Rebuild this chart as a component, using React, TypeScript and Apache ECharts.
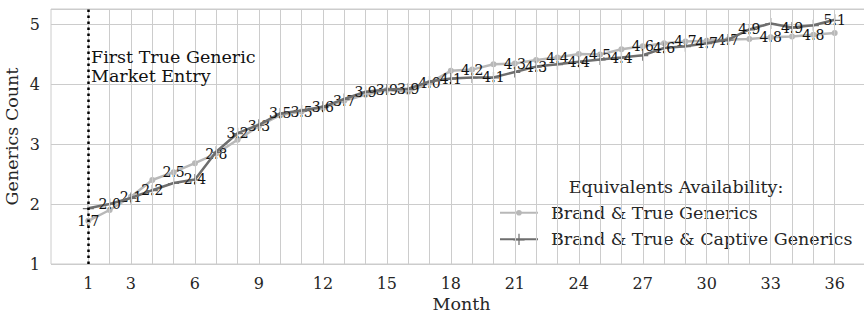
import React, { useEffect, useRef } from "react";
import * as echarts from "echarts";

const months: number[] = Array.from({ length: 36 }, (_, i) => i + 1);
const xTickLabels: number[] = [1, 3, 6, 9, 12, 15, 18, 21, 24, 27, 30, 33, 36];
const seriesNames: string[] = ["Brand & True Generics", "Brand & True & Captive Generics"];

const brandTrue: number[] = [
  1.72, 1.9, 2.12, 2.4, 2.53, 2.68, 2.84, 3.07, 3.3, 3.48, 3.54, 3.6,
  3.72, 3.82, 3.9, 3.87, 4.02, 4.22, 4.24, 4.33, 4.34, 4.4, 4.44, 4.5,
  4.49, 4.58, 4.63, 4.68, 4.71, 4.72, 4.74, 4.75, 4.78, 4.79, 4.82, 4.85,
];
const brandTrueCaptive: number[] = [
  1.93, 2.0, 2.1, 2.23, 2.35, 2.41, 2.87, 3.18, 3.32, 3.51, 3.56, 3.62,
  3.75, 3.87, 3.91, 3.92, 4.04, 4.09, 4.11, 4.11, 4.2, 4.29, 4.33, 4.37,
  4.41, 4.44, 4.48, 4.6, 4.63, 4.68, 4.74, 4.91, 5.01, 4.94, 4.98, 5.07,
];
const entryMonth = 1;

const FONT = "DejaVu Serif";
// small circle inside a 12x12 box (corner moveTo points keep the box size)
const CIRCLE_SYMBOL = "path://M0,0M12,12M9,6A3,3 0 1 1 3,6A3,3 0 1 1 9,6Z";
// matplotlib-like "+" marker
const PLUS_SYMBOL = "path://M0,5.4H11V6.6H0Z M4.9,0H6.1V11H4.9Z";

export default function App() {
  const ref = useRef<HTMLDivElement>(null);
  useEffect(() => {
    if (!ref.current) return;
    const chart = echarts.init(ref.current, undefined, { renderer: "svg" });
    const labelStyle = {
      show: true,
      position: "inside",
      fontFamily: FONT,
      fontSize: 14,
      color: "#111111",
    };
    chart.setOption({
      animation: false,
      backgroundColor: "#ffffff",
      textStyle: { fontFamily: FONT },
      grid: {
        left: 51,
        top: 9,
        right: -8,
        bottom: 49,
        containLabel: false,
        outerBoundsMode: "none",
        show: true,
        borderColor: "#cccccc",
        borderWidth: 1,
        backgroundColor: "#ffffff",
      },
      xAxis: {
        type: "value",
        min: -0.75,
        max: 37.75,
        name: "Month",
        nameLocation: "middle",
        nameGap: 30.5,
        nameMoveOverlap: false,
        nameTextStyle: { fontFamily: FONT, fontSize: 17.5, color: "#262626", lineHeight: 18 },
        axisLine: { show: false },
        axisTick: { show: false },
        splitLine: { show: false },
        axisLabel: {
          customValues: xTickLabels,
          fontFamily: FONT,
          fontSize: 16,
          color: "#262626",
          margin: 11,
          hideOverlap: false,
        },
      },
      yAxis: {
        type: "value",
        min: 1,
        max: 5.25,
        interval: 1,
        name: "Generics Count",
        nameLocation: "middle",
        nameGap: 30,
        nameMoveOverlap: false,
        nameTextStyle: { fontFamily: FONT, fontSize: 17.5, color: "#262626", lineHeight: 18 },
        axisLine: { show: false },
        axisTick: { show: false },
        splitLine: { show: true, lineStyle: { color: "#cccccc", width: 1 } },
        axisLabel: {
          fontFamily: FONT,
          fontSize: 16,
          color: "#262626",
          margin: 11,
          formatter: (v: number) => (Number.isInteger(v) ? String(v) : ""),
        },
      },
      legend: {
        data: seriesNames,
        orient: "vertical",
        left: 494,
        top: 198.7,
        itemWidth: 38,
        itemHeight: 14,
        itemGap: 8.6,
        selectedMode: false,
        textStyle: {
          fontFamily: FONT,
          fontSize: 17.5,
          color: "#262626",
          lineHeight: 18,
          padding: [0, 0, 0, 8],
        },
      },
      graphic: [
        {
          type: "text",
          left: 91,
          top: 47,
          z: 100,
          style: {
            text: "First True Generic\nMarket Entry",
            font: `17.5px "${FONT}"`,
            lineHeight: 19.4,
            fill: "#111111",
          },
        },
        {
          type: "text",
          x: 676,
          y: 187,
          z: 100,
          style: {
            text: "Equivalents Availability:",
            font: `17.5px "${FONT}"`,
            fill: "#262626",
            align: "center",
            verticalAlign: "middle",
          },
        },
      ],
      series: [
        {
          name: "vgrid",
          type: "line",
          data: [[entryMonth, 3]],
          symbol: "none",
          lineStyle: { opacity: 0 },
          silent: true,
          z: 1,
          markLine: {
            silent: true,
            symbol: ["none", "none"],
            label: { show: false },
            lineStyle: { color: "#cccccc", width: 1, type: "solid" },
            data: months.map((m) => ({ xAxis: m })),
          },
        },
        {
          name: seriesNames[0],
          type: "line",
          data: months.map((m, i) => [m, brandTrue[i]]),
          color: "#b8b8b8",
          lineStyle: { width: 2.5, color: "#b8b8b8" },
          symbol: CIRCLE_SYMBOL,
          symbolSize: 12,
          itemStyle: { color: "#b8b8b8" },
          z: 3,
          label: {
            ...labelStyle,
            formatter: (p: any) => (p.dataIndex % 2 === 0 ? p.value[1].toFixed(1) : ""),
          },
        },
        {
          name: seriesNames[1],
          type: "line",
          data: months.map((m, i) => [m, brandTrueCaptive[i]]),
          color: "#6e6e6e",
          lineStyle: { width: 2.5, color: "#6e6e6e" },
          symbol: PLUS_SYMBOL,
          symbolSize: 11,
          itemStyle: { color: "#6e6e6e" },
          z: 4,
          label: {
            ...labelStyle,
            formatter: (p: any) => (p.dataIndex % 2 === 1 ? p.value[1].toFixed(1) : ""),
          },
        },
        {
          name: "entry",
          type: "line",
          data: [[entryMonth, 3]],
          symbol: "none",
          lineStyle: { opacity: 0 },
          silent: true,
          z: 6,
          markLine: {
            silent: true,
            symbol: ["none", "none"],
            label: { show: false },
            lineStyle: { color: "#000000", width: 2.5, type: [2.5, 3.5] },
            data: [{ xAxis: entryMonth }],
          },
        },
      ],
    });
    return () => chart.dispose();
  }, []);
  return (
    <div
      ref={ref}
      style={{ position: "absolute", left: 0, top: 0, width: 864, height: 313 }}
    />
  );
}
